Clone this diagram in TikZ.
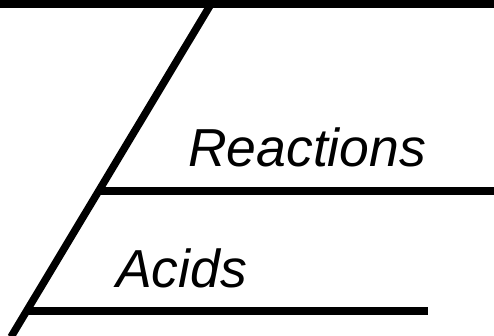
\documentclass[tikz,border=0pt]{standalone}
\usepackage{fontspec}
\setmainfont{Liberation Sans}
\begin{document}
\begin{tikzpicture}[x=1pt,y=1pt,
  bar/.style={line width=7.5pt},
  lbl/.style={font=\fontsize{53.5}{62}\selectfont\itshape, anchor=base west, inner sep=0pt}]
\useasboundingbox (0,0) rectangle (494,336);
\clip (0,0) rectangle (494,336);
\coordinate (tl) at (0,332);
\coordinate (tr) at (494,332);
\coordinate (dtop) at (211,332);
\coordinate (dbot) at (11,-1);
\coordinate (ml) at (98.5,145);
\coordinate (mr) at (494,145);
\coordinate (bl) at (26.5,25);
\coordinate (br) at (428,25);
\draw[bar] (tl) -- (tr);
\draw[bar] (dtop) -- (dbot);
\draw[bar] (ml) -- (mr);
\draw[bar] (bl) -- (br);
\node[lbl] (reactions) at (188,169) {Reactions};
\node[lbl] (acids) at (116,48) {Acids};
\end{tikzpicture}
\end{document}
